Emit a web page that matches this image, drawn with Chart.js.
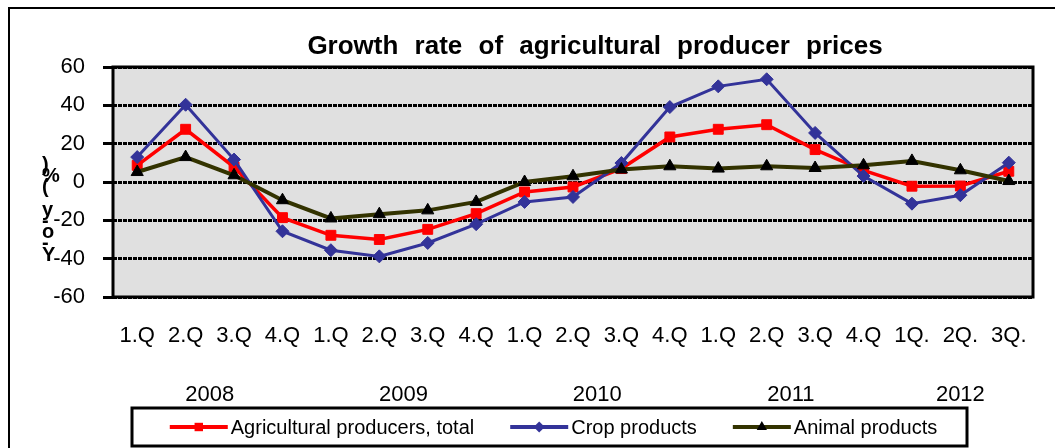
<!DOCTYPE html>
<html>
<head>
<meta charset="utf-8">
<script src="https://cdn.jsdelivr.net/npm/chart.js@4/dist/chart.umd.min.js"></script>
<style>
  html, body { margin: 0; padding: 0; background: #fff; }
  canvas { display: block; }
</style>
</head>
<body>
<canvas id="chart" width="1055" height="448"></canvas>
<script>
// --- dados ---
const quarters = ['1.Q','2.Q','3.Q','4.Q','1.Q','2.Q','3.Q','4.Q','1.Q','2.Q','3.Q','4.Q','1.Q','2.Q','3.Q','4.Q','1Q.','2Q.','3Q.'];
const years    = [2008,2008,2008,2008,2009,2009,2009,2009,2010,2010,2010,2010,2011,2011,2011,2011,2012,2012,2012];
const agri     = [8.7, 27.5, 7.8, -18.6, -27.8, -30.0, -24.7, -16.5, -5.2, -2.6, 7.0, 23.5, 27.5, 29.9, 16.9, 6.1, -2.2, -2.1, 5.6];
const crop     = [13.0, 40.3, 11.7, -25.7, -35.6, -38.8, -31.8, -22.0, -10.4, -7.8, 9.9, 39.1, 49.9, 53.6, 25.6, 3.1, -11.3, -6.9, 10.1];
const animal   = [5.2, 13.0, 3.5, -9.5, -19.0, -16.8, -14.8, -10.4, 0.0, 3.0, 6.5, 8.2, 7.0, 8.2, 7.3, 8.7, 11.0, 6.1, 0.5];
const yMin = -60, yMax = 60, yStep = 20;
const chartTitle = 'Growth rate of agricultural producer prices';
const yTitle = 'Y-o-y (%)';

const FONT = '"Liberation Sans", Arial, sans-serif';

function drawMarker(ctx, style, x, y, r, color) {
  ctx.fillStyle = color;
  ctx.beginPath();
  if (style === 'rect') {
    const s = r * Math.SQRT2;
    ctx.rect(x - s / 2, y - s / 2, s, s);
  } else if (style === 'rectRot') {
    ctx.moveTo(x, y - r); ctx.lineTo(x + r, y); ctx.lineTo(x, y + r); ctx.lineTo(x - r, y);
    ctx.closePath();
  } else {
    ctx.moveTo(x, y - r);
    ctx.lineTo(x + r * 0.866, y + r * 0.5);
    ctx.lineTo(x - r * 0.866, y + r * 0.5);
    ctx.closePath();
  }
  ctx.fill();
}

// fundo, moldura externa e área cinza
const backdrop = {
  id: 'backdrop',
  beforeDraw(chart) {
    const { ctx, chartArea: a } = chart;
    ctx.save();
    ctx.fillStyle = '#fff';
    ctx.fillRect(0, 0, chart.width, chart.height);
    ctx.strokeStyle = '#000';
    ctx.lineWidth = 2;
    ctx.strokeRect(9, 8, chart.width + 20, chart.height + 20);
    ctx.fillStyle = '#E0E0E0';
    ctx.fillRect(a.left, a.top, a.right - a.left, a.bottom - a.top);
    ctx.restore();
  },
  beforeDatasetsDraw(chart) {
    const { ctx, chartArea: a } = chart;
    ctx.save();
    ctx.strokeStyle = '#000';
    ctx.lineWidth = 3;
    ctx.strokeRect(a.left, a.top, a.right - a.left, a.bottom - a.top);
    ctx.restore();
  }
};

// título, rótulo do eixo y empilhado, anos e legenda
const extras = {
  id: 'extras',
  afterDraw(chart) {
    const ctx = chart.ctx;
    const xs = chart.scales.x;
    ctx.save();
    ctx.fillStyle = '#000';

    // título
    ctx.font = 'bold 26px ' + FONT;
    if ('wordSpacing' in ctx) ctx.wordSpacing = '9px';
    ctx.textAlign = 'center';
    ctx.textBaseline = 'middle';
    ctx.fillText(chartTitle, 595, 47);
    if ('wordSpacing' in ctx) ctx.wordSpacing = '0px';

    // eixo y: caracteres empilhados, lidos de baixo pra cima
    ctx.font = 'bold 20px ' + FONT;
    ctx.textAlign = 'left';
    const chars = yTitle.split('').reverse();
    chars.forEach((ch, i) => ctx.fillText(ch, 42, 165 + i * 11.25));

    // anos centrados no grupo de trimestres
    ctx.font = '22px ' + FONT;
    ctx.textAlign = 'center';
    [...new Set(years)].forEach(yr => {
      const idx = years.map((v, i) => v === yr ? i : -1).filter(i => i >= 0);
      const mid = idx.reduce((s, i) => s + i, 0) / idx.length;
      ctx.fillText(String(yr), xs.getPixelForValue(mid), 395);
    });

    // legenda
    ctx.font = '20px ' + FONT;
    const box = { left: 132, top: 408, right: 967, bottom: 446 };
    ctx.strokeStyle = '#000';
    ctx.lineWidth = 3;
    ctx.strokeRect(box.left, box.top, box.right - box.left, box.bottom - box.top);
    const lineLen = 58, txtGap = 3, itemGap = 36;
    const dsList = chart.data.datasets;
    const widths = dsList.map(ds => ctx.measureText(ds.label).width);
    const total = widths.reduce((s, w) => s + lineLen + txtGap + w, 0) + itemGap * (dsList.length - 1);
    let x = (box.left + box.right) / 2 + 4 - total / 2;
    const y = 427;
    dsList.forEach((ds, i) => {
      ctx.strokeStyle = ds.borderColor;
      ctx.lineWidth = 4;
      ctx.beginPath(); ctx.moveTo(x, y); ctx.lineTo(x + lineLen, y); ctx.stroke();
      drawMarker(ctx, ds.pointStyle, x + lineLen / 2, y, ds.pointRadius * 0.85, ds.pointBackgroundColor);
      ctx.fillStyle = '#000';
      ctx.textAlign = 'left';
      ctx.textBaseline = 'middle';
      ctx.fillText(ds.label, x + lineLen + txtGap, y + 1);
      x += lineLen + txtGap + widths[i] + itemGap;
    });
    ctx.restore();
  }
};

new Chart(document.getElementById('chart'), {
  type: 'line',
  data: {
    labels: quarters,
    datasets: [
      { label: 'Agricultural producers, total', data: agri, order: 3,
        borderColor: '#FF0000', backgroundColor: '#FF0000', borderWidth: 3.5,
        pointStyle: 'rect', pointRadius: 7, pointBackgroundColor: '#FF0000', pointBorderColor: '#FF0000', pointBorderWidth: 1 },
      { label: 'Crop products', data: crop, order: 2,
        borderColor: '#333399', backgroundColor: '#333399', borderWidth: 3,
        pointStyle: 'rectRot', pointRadius: 6.5, pointBackgroundColor: '#333399', pointBorderColor: '#333399', pointBorderWidth: 1 },
      { label: 'Animal products', data: animal, order: 1,
        borderColor: '#333300', backgroundColor: '#333300', borderWidth: 4,
        pointStyle: 'triangle', pointRadius: 7, pointBackgroundColor: '#000000', pointBorderColor: '#000000', pointBorderWidth: 1 }
    ]
  },
  options: {
    responsive: false,
    animation: false,
    devicePixelRatio: 1,
    layout: { padding: { left: 13, top: 67, right: 22, bottom: 0 } },
    plugins: { legend: { display: false }, title: { display: false }, tooltip: { enabled: false } },
    elements: { line: { tension: 0 } },
    scales: {
      x: {
        offset: true,
        grid: { display: false, drawTicks: false },
        border: { display: false },
        ticks: { color: '#000', font: { family: FONT, size: 22 }, padding: 26, maxRotation: 0, autoSkip: false },
        afterFit(s) { s.height = 151; }
      },
      y: {
        min: yMin, max: yMax,
        grid: { color: '#000', lineWidth: 3, tickLength: 10, tickWidth: 3, tickColor: '#000', tickBorderDash: [] },
        border: { display: false, dash: [4, 1] },
        ticks: { stepSize: yStep, color: '#000', font: { family: FONT, size: 22 }, padding: 18 },
        afterFit(s) { s.width = 100; }
      }
    }
  },
  plugins: [backdrop, extras]
});
</script>
</body>
</html>
